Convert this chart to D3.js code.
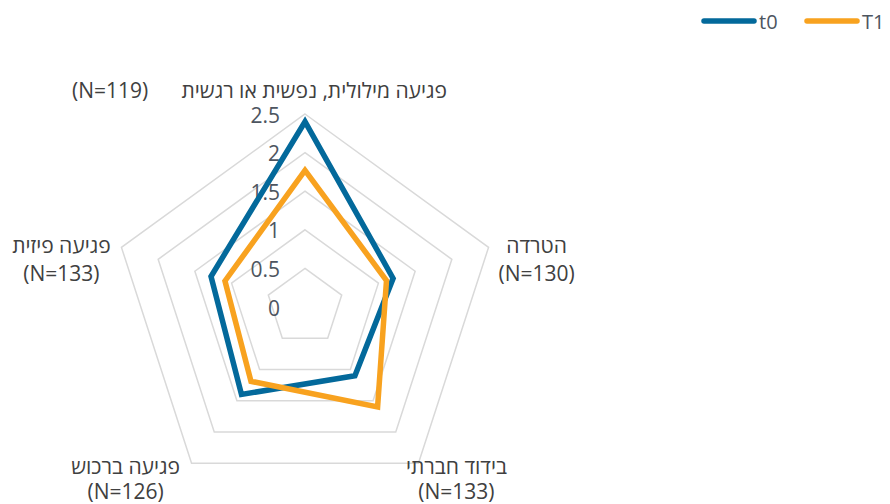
<!DOCTYPE html>
<html>
<head>
<meta charset="utf-8">
<script src="https://cdn.jsdelivr.net/npm/d3@7"></script>
<style>
  body { margin: 0; background: #fff; }
  text { font-family: "Open Sans", sans-serif; }
</style>
</head>
<body>
<div id="chart"></div>
<script>
const categories = ["פגיעה מילולית, נפשית או רגשית", "הטרדה", "בידוד חברתי", "פגיעה ברכוש", "פגיעה פיזית"]
const nLabels = ["(N=119)", "(N=130)", "(N=133)", "(N=126)", "(N=133)"]
const t0Values = [2.40, 1.20, 1.10, 1.40, 1.28]
const t1Values = [1.77, 1.11, 1.60, 1.19, 1.09]
const seriesNames = ["t0", "T1"]
const tickValues = [0, 0.5, 1, 1.5, 2, 2.5]

const colors = ["#03699b", "#f8a21f"]

const dimensions = { width: 890, height: 504, cx: 305, cy: 307, radius: 193 }

const svg = d3.select("#chart")
  .append("svg")
  .attr("width", dimensions.width)
  .attr("height", dimensions.height)

const rScale = d3.scaleLinear()
  .domain([0, 2.5])
  .range([0, dimensions.radius])

const angle = d3.scalePoint()
  .domain(d3.range(categories.length + 1))
  .range([0, 2 * Math.PI])

const ctr = svg.append("g")
  .attr("transform", `translate(${dimensions.cx}, ${dimensions.cy})`)

// grid rings
const ring = d3.lineRadial()
  .angle((d, i) => angle(i))
  .radius(d => rScale(d))
  .curve(d3.curveLinearClosed)

ctr.selectAll(".grid")
  .data(tickValues.filter(t => t > 0))
  .join("path")
  .attr("class", "grid")
  .attr("d", t => ring(categories.map(() => t)))
  .attr("fill", "none")
  .attr("stroke", "#d9d9d9")
  .attr("stroke-width", 1.5)

// tick labels
ctr.selectAll(".tick")
  .data(tickValues)
  .join("text")
  .attr("class", "tick")
  .attr("x", -25)
  .attr("y", t => -rScale(t) + 8.5)
  .attr("text-anchor", "end")
  .attr("font-size", 21)
  .attr("fill", "#4d5560")
  .text(t => t)

// series
const series = [t0Values, t1Values]
ctr.selectAll(".series")
  .data(series)
  .join("path")
  .attr("class", "series")
  .attr("d", vals => ring(vals))
  .attr("fill", "none")
  .attr("stroke", (d, i) => colors[i])
  .attr("stroke-width", 5.5)
  .attr("stroke-linejoin", "miter")

// category labels (offset from the outer ring vertex)
const labelOffsets = [
  { dx: 0, dy: -16, gap: 0 },
  { dx: 48, dy: 6, gap: 28 },
  { dx: 38, dy: 11, gap: 25 },
  { dx: -66, dy: 11, gap: 25 },
  { dx: -60, dy: 6, gap: 28 }
]
const labelR = rScale(2.5)
const labels = ctr.selectAll(".cat")
  .data(categories)
  .join("g")
  .attr("class", "cat")
  .attr("transform", (d, i) => {
    const a = angle(i)
    const x = labelR * Math.sin(a) + labelOffsets[i].dx
    const y = -labelR * Math.cos(a) + labelOffsets[i].dy
    return `translate(${x}, ${y})`
  })

labels.each(function (d, i) {
  const g = d3.select(this)
  if (i === 0) {
    g.append("text")
      .attr("x", 142)
      .attr("text-anchor", "end")
      .attr("font-size", 21)
      .attr("fill", "#404040")
      .text(d)
    g.append("text")
      .attr("x", -233)
      .attr("text-anchor", "start")
      .attr("font-size", 21)
      .attr("fill", "#404040")
      .text(nLabels[i])
  } else {
    g.append("text")
      .attr("text-anchor", "middle")
      .attr("font-size", 21)
      .attr("fill", "#404040")
      .text(d)
    g.append("text")
      .attr("y", labelOffsets[i].gap)
      .attr("text-anchor", "middle")
      .attr("font-size", 21)
      .attr("fill", "#404040")
      .text(nLabels[i])
  }
})

// legend
const legend = svg.append("g")
  .selectAll("g")
  .data(seriesNames)
  .join("g")
  .attr("transform", (d, i) => `translate(${704 + i * 103}, 21)`)

legend.append("line")
  .attr("x1", 0)
  .attr("x2", 50)
  .attr("stroke", (d, i) => colors[i])
  .attr("stroke-width", 5.5)
  .attr("stroke-linecap", "round")

legend.append("text")
  .attr("x", 55)
  .attr("y", 7.5)
  .attr("font-size", 20)
  .attr("fill", "#4d5560")
  .text(d => d)
</script>
</body>
</html>
